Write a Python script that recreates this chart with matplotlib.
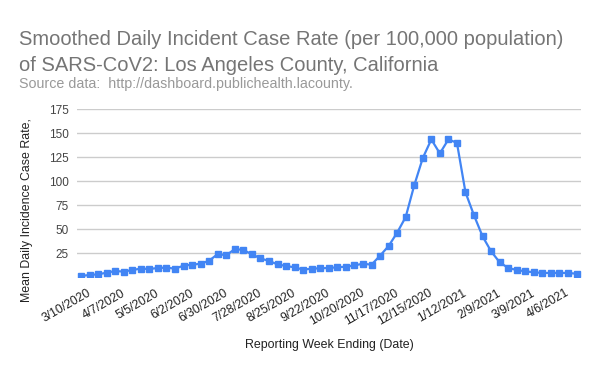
import numpy as np
import pandas as pd
import matplotlib
matplotlib.use("Agg")
import matplotlib.pyplot as plt
import matplotlib.transforms as mtrans

plt.rcParams['font.family'] = ['Liberation Sans', 'DejaVu Sans']

# weekly reporting dates (week ending)
weeks = pd.date_range("2020-03-10", periods=59, freq="7D")

# smoothed daily incident case rate per 100k
rate = [1.4, 2.4, 3.1, 4.8, 6.5, 5.9, 7.6, 9.0, 8.6, 9.7,
        10.0, 9.0, 12.1, 13.1, 14.1, 17.3, 24.2, 22.9, 29.4, 28.4,
        23.9, 19.7, 16.9, 13.5, 11.7, 10.4, 7.9, 9.0, 9.3, 9.7,
        10.4, 11.0, 12.4, 14.1, 13.1, 22.5, 32.5, 46.4, 62.7, 95.6,
        124.0, 143.4, 128.9, 143.4, 139.9, 88.4, 64.4, 42.6, 27.0, 15.6,
        9.7, 7.6, 6.2, 5.2, 4.5, 4.5, 4.5, 4.5, 3.7]

tick_idx = list(range(0, 59, 4))
tick_labels = [f"{d.month}/{d.day}/{d.year}" for d in weeks[tick_idx]]
y_ticks = [25, 50, 75, 100, 125, 150, 175]

fig = plt.figure(figsize=(6, 3.71), dpi=100)
ax = fig.add_axes([0.128, 0.2526, 0.84, 0.4534])

x = np.arange(len(rate))
ax.plot(x, rate, color="#4285F4", lw=1.6, marker="s", ms=4.8, zorder=3)

ax.set_xlim(-0.5, len(rate) - 0.5)
ax.set_ylim(0, 175)
ax.set_yticks(y_ticks)
ax.set_yticklabels([str(v) for v in y_ticks], color="#444444", fontsize=8.5)
ax.grid(axis="y", color="#cccccc", lw=1)
ax.tick_params(axis="y", length=0, pad=6)
ax.set_xticks(tick_idx)
ax.set_xticklabels(tick_labels, rotation=30, ha="right", va="top",
                   rotation_mode="anchor", color="#222222", fontsize=8.7)
ax.tick_params(axis="x", length=0, pad=7)
shift = mtrans.ScaledTranslation(6 / 100, 0, fig.dpi_scale_trans)
for lab in ax.get_xticklabels():
    lab.set_transform(lab.get_transform() + shift)
for s in ax.spines.values():
    s.set_visible(False)
ax.set_axisbelow(True)

fig.text(0.549, 1 - 348 / 371, "Reporting Week Ending (Date)", fontsize=8.9,
         color="#222222", ha="center", va="baseline")
fig.text(0.045, 1 - 210 / 371, "Mean Daily Incidence Case Rate,", fontsize=8.9,
         color="#222222", rotation=90, ha="center", va="center")

fig.text(0.032, 1 - 71 / 371, "Smoothed Daily Incident Case Rate (per 100,000 population)\n"
         "of SARS-CoV2: Los Angeles County, California",
         fontsize=14.5, color="#757575", va="baseline", linespacing=1.47)
fig.text(0.032, 1 - 87.7 / 371, "Source data:  http://dashboard.publichealth.lacounty.",
         fontsize=10.3, color="#999999", va="baseline")

fig.savefig("out.png", dpi=100)
